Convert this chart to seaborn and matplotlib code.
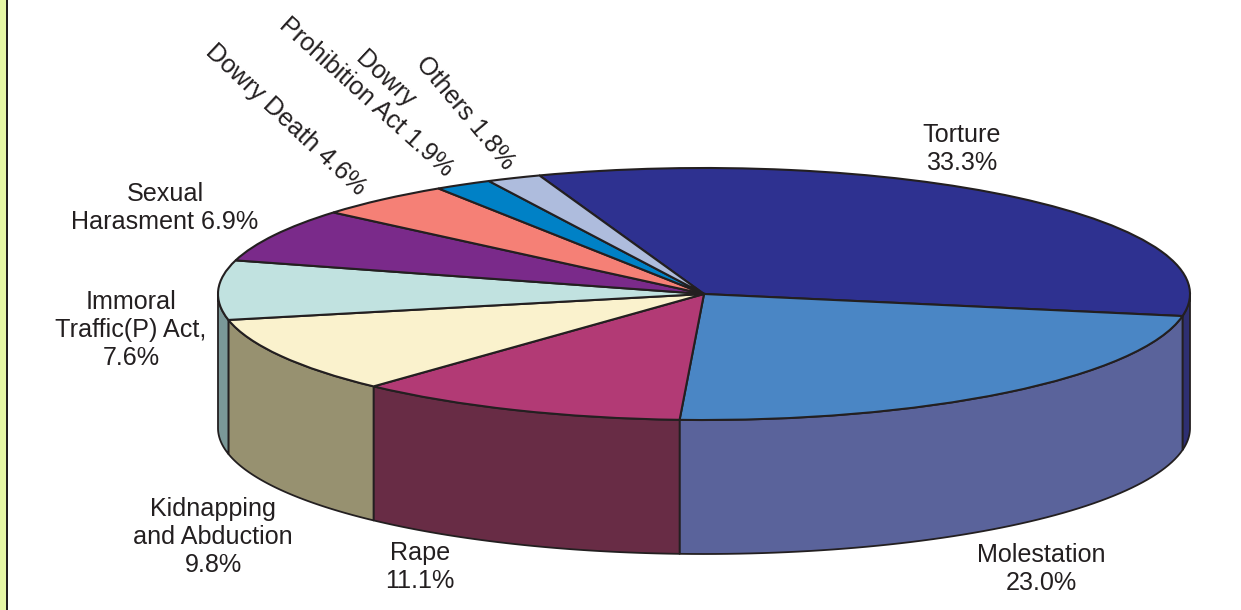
import numpy as np
import matplotlib
matplotlib.use("Agg")
import matplotlib.pyplot as plt
from matplotlib.patches import Rectangle
import seaborn as sns

categories = ["Torture", "Molestation", "Rape", "Kidnapping and Abduction",
              "Immoral Traffic(P) Act", "Sexual Harasment", "Dowry Death",
              "Dowry Prohibition Act", "Others"]
values = [33.3, 23.0, 11.1, 9.8, 7.6, 6.9, 4.6, 1.9, 1.8]
top_colors = ["#2E3190", "#4A86C5", "#B23A75", "#FAF2CD", "#C1E2E0",
              "#7A2A8A", "#F58076", "#0081C6", "#AEBCDD"]
wall_colors = ["#2E2F72", "#5A639B", "#682C45", "#979170", "#7A9898",
               "#5A1F66", "#B5605A", "#006090", "#8490A8"]
labels = ["Torture\n33.3%", "Molestation\n23.0%", "Rape\n11.1%",
          "Kidnapping\nand Abduction\n9.8%", "Immoral\nTraffic(P) Act,\n7.6%",
          "Sexual\nHarasment 6.9%", "Dowry Death 4.6%",
          "Dowry", "Prohibition Act 1.9%", "Others 1.8%"]

W, H = 1241, 610
CX, CY, RX, RY, DEPTH = 704.0, 294.0, 486.0, 126.0, 134.0
START = 109.8
INK = "#231F20"

sns.set_theme(style="white")
plt.rcParams["font.family"] = ["Liberation Sans", "DejaVu Sans"]

fig = plt.figure(figsize=(W / 100, H / 100), dpi=100, facecolor="white")
ax = fig.add_axes([0, 0, 1, 1])

palette = sns.color_palette(top_colors)
wedges, _ = ax.pie(values, colors=palette, startangle=START, counterclock=False,
                   normalize=True, radius=1,
                   wedgeprops=dict(edgecolor=INK, linewidth=1.5, zorder=3))
ax.set_aspect("auto")
ax.set_xlim(-CX / RX, (W - CX) / RX)
ax.set_ylim((CY - H) / RY, CY / RY)
ax.axis("off")

# side walls follow the same wedge angles, clipped to the visible front half
d = DEPTH / RY
fractions = np.array(values) / np.sum(values)
ends = START - np.cumsum(fractions) * 360
starts = np.concatenate([[START], ends[:-1]])
for a0, a1, c in zip(starts, ends, wall_colors):
    lo, hi = max(a1, -180.0), min(a0, 0.0)
    if lo >= hi:
        lo, hi = max(a1 + 360, -180.0), min(a0 + 360, 0.0)
    if lo >= hi:
        continue
    t = np.radians(np.linspace(hi, lo, 60))
    xs = np.concatenate([np.cos(t), np.cos(t)[::-1]])
    ys = np.concatenate([np.sin(t), np.sin(t)[::-1] - d])
    ax.fill(xs, ys, facecolor=c, edgecolor=INK, linewidth=1.3, zorder=2,
            joinstyle="round")

# left strip
fig.add_artist(Rectangle((0, 0), 6 / W, 1, transform=fig.transFigure,
                         facecolor="#E6F7A5", edgecolor="none"))
fig.add_artist(Rectangle((6 / W, 0), 2.2 / W, 1, transform=fig.transFigure,
                         facecolor=INK, edgecolor="none"))

label_pos = [(962, 149), (1041, 569), (420, 567), (213, 537), (131, 330),
             (165, 208), (286, 120), (385, 79), (366, 97), (465, 113)]
label_rot = [0, 0, 0, 0, 0, 0, -43, -43, -42, -50]
for s, (px, py), r in zip(labels, label_pos, label_rot):
    fig.text(px / W, 1 - py / H, s, ha="center", va="center", rotation=r,
             fontsize=18.1, color=INK, linespacing=1.2, multialignment="center")

fig.savefig("out.png", dpi=100)
